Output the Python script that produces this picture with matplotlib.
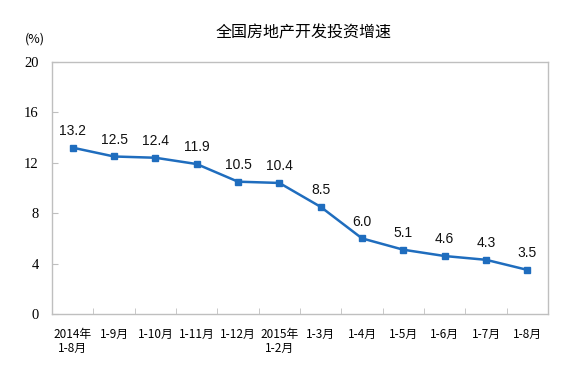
import matplotlib
matplotlib.use("Agg")
import matplotlib.pyplot as plt
import numpy as np

categories = ["2014年\n1-8月", "1-9月", "1-10月", "1-11月", "1-12月", "2015年\n1-2月",
              "1-3月", "1-4月", "1-5月", "1-6月", "1-7月", "1-8月"]
values = [13.2, 12.5, 12.4, 11.9, 10.5, 10.4, 8.5, 6.0, 5.1, 4.6, 4.3, 3.5]
yticks = [0, 4, 8, 12, 16, 20]

fig = plt.figure(figsize=(5.73, 3.75), dpi=100)
ax = fig.add_axes([0.0908, 0.1627, 0.8656, 0.672])

x = np.arange(len(values))
color = "#1F6DBE"
ax.plot(x, values, color=color, lw=1.8, marker="s", ms=4.5, mfc=color, mec=color)

for xi, v in zip(x, values):
    ax.annotate(f"{v:.1f}", (xi, v), xytext=(0, 7), textcoords="offset points",
                ha="center", va="bottom", fontsize=10, family="Liberation Sans", color="#111111")

ax.set_xlim(-0.5, len(values) - 0.5)
ax.set_ylim(0, 20)
ax.set_yticks(yticks)
ax.set_yticklabels([str(t) for t in yticks], family="Liberation Serif", fontsize=10.5)
ax.set_xticks(x)
ax.set_xticklabels(categories, family=["Noto Sans CJK SC", "DejaVu Sans"], fontsize=8.5,
                   linespacing=1.15)
ax.tick_params(axis="x", length=0, pad=10)
ax.set_xticks(np.arange(len(values) + 1) - 0.5, minor=True)
ax.tick_params(axis="x", which="minor", direction="in", length=4, color="#bfbfbf")
ax.tick_params(axis="y", direction="in", length=4, color="#bfbfbf", pad=9.5)
for s in ax.spines.values():
    s.set_color("#bfbfbf")
    s.set_linewidth(1.0)

fig.text(0.53, 0.912, "全国房地产开发投资增速", ha="center", va="center",
         family=["Noto Sans CJK SC", "DejaVu Sans"], fontsize=11.5)
fig.text(0.061, 0.896, "(%)", ha="center", va="center",
         family=["Noto Sans CJK SC", "DejaVu Sans"], fontsize=9)

fig.savefig("out.png", dpi=100, facecolor="white")
